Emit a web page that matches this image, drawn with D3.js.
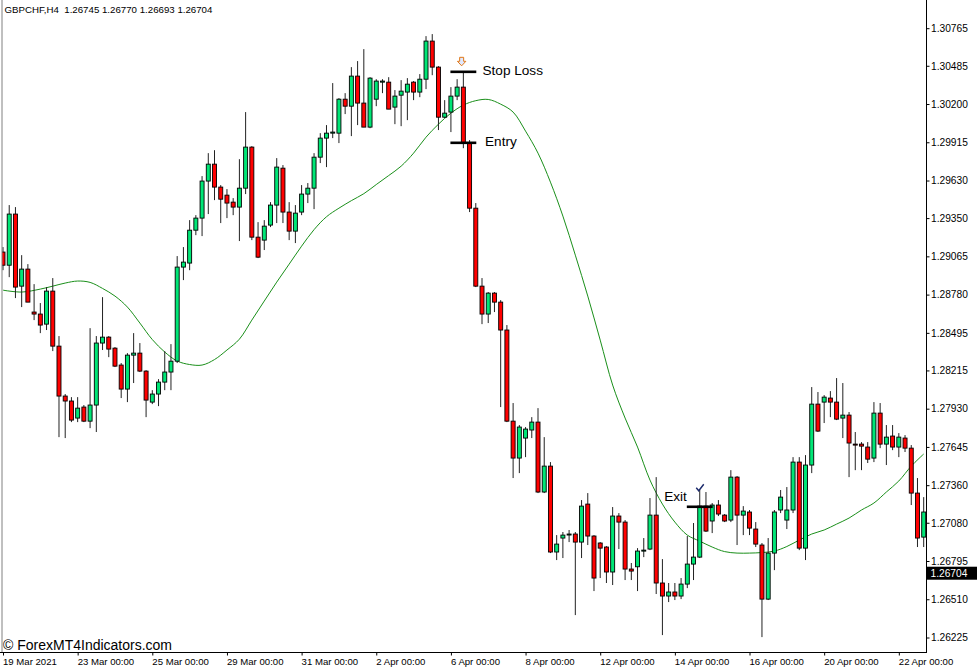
<!DOCTYPE html>
<html><head><meta charset="utf-8">
<script src="https://cdn.jsdelivr.net/npm/d3@7"></script>
<style>
body{margin:0;background:#fff}
svg{display:block}
text{font-family:"Liberation Sans",Arial,sans-serif}
</style></head>
<body><svg id="c" width="977" height="672"></svg>
<script>
// ---- data (GBPCHF H4, 19 Mar 2021 - 22 Apr 2021) ----
const opens = [1.29097,1.28999,1.29380,1.28843,1.28970,1.28650,1.28635,1.28560,1.28806,1.28396,1.28024,1.27987,1.27860,1.27942,1.27837,1.27957,1.28419,1.28463,1.28381,1.28255,1.28076,1.28329,1.28344,1.28210,1.27979,1.28039,1.28128,1.28203,1.28284,1.28985,1.29015,1.29260,1.29350,1.29626,1.29752,1.29581,1.29521,1.29469,1.29432,1.29573,1.29879,1.29208,1.29186,1.29298,1.29447,1.29722,1.29395,1.29253,1.29395,1.29529,1.29573,1.29804,1.29946,1.29983,1.29983,1.30236,1.30184,1.30408,1.30207,1.30028,1.30236,1.30363,1.30363,1.30177,1.30266,1.30289,1.30363,1.30289,1.30385,1.30669,1.30475,1.30102,1.30140,1.30259,1.30326,1.29909,1.29424,1.28843,1.28635,1.28791,1.28724,1.28516,1.27837,1.27562,1.27711,1.27771,1.27830,1.27309,1.27502,1.26862,1.26966,1.26992,1.26996,1.26936,1.27219,1.26981,1.26929,1.26899,1.26713,1.27130,1.27085,1.26735,1.26752,1.26869,1.26884,1.27137,1.26631,1.26534,1.26564,1.26534,1.26623,1.26772,1.26824,1.27204,1.27093,1.27212,1.27137,1.27100,1.27420,1.27137,1.27160,1.27033,1.26914,1.26511,1.26854,1.27175,1.27100,1.27175,1.27532,1.26891,1.27510,1.27964,1.27979,1.28009,1.27979,1.27860,1.27882,1.27666,1.27666,1.27644,1.27562,1.27897,1.27666,1.27726,1.27644,1.27711,1.27636,1.27301,1.26973];
const highs = [1.29134,1.29447,1.29432,1.29074,1.29007,1.28858,1.28717,1.28836,1.28903,1.28471,1.28039,1.28016,1.28016,1.27957,1.28530,1.28471,1.28761,1.28471,1.28389,1.28270,1.28344,1.28493,1.28419,1.28217,1.28068,1.28150,1.28359,1.28411,1.29067,1.29134,1.29335,1.29372,1.29663,1.29834,1.29856,1.29596,1.29566,1.29499,1.29789,1.30140,1.29886,1.29320,1.29335,1.29469,1.29797,1.29745,1.29469,1.29447,1.29596,1.29611,1.29834,1.29983,1.30043,1.30356,1.30244,1.30281,1.30475,1.30520,1.30609,1.30400,1.30385,1.30385,1.30400,1.30304,1.30378,1.30393,1.30371,1.30423,1.30706,1.30721,1.30482,1.30229,1.30326,1.30385,1.30438,1.29931,1.29462,1.28903,1.28799,1.28799,1.28739,1.28553,1.27972,1.27808,1.27793,1.27867,1.27934,1.27718,1.27532,1.26988,1.27011,1.27026,1.27011,1.27249,1.27301,1.26988,1.26936,1.26906,1.27197,1.27152,1.27100,1.26780,1.26891,1.26966,1.27264,1.27420,1.26809,1.26631,1.26631,1.26668,1.26981,1.27078,1.27324,1.27309,1.27227,1.27249,1.27145,1.27472,1.27428,1.27204,1.27175,1.27085,1.26929,1.26966,1.27175,1.27324,1.27346,1.27569,1.27569,1.27584,1.28091,1.28054,1.28031,1.28061,1.28158,1.28121,1.27905,1.27756,1.27681,1.27681,1.27979,1.27972,1.27808,1.27808,1.27748,1.27733,1.27659,1.27413,1.27271];
const lows = [1.28962,1.28910,1.28754,1.28687,1.28724,1.28590,1.28493,1.28516,1.28359,1.27718,1.27711,1.27830,1.27830,1.27830,1.27785,1.27756,1.28367,1.28314,1.28240,1.28009,1.27979,1.28121,1.28203,1.27867,1.27964,1.27949,1.28068,1.28068,1.28270,1.28888,1.28962,1.29223,1.29216,1.29380,1.29484,1.29313,1.29350,1.29372,1.29179,1.29529,1.29186,1.29052,1.29112,1.29283,1.29313,1.29313,1.29186,1.29164,1.29372,1.29462,1.29417,1.29760,1.29730,1.29946,1.29909,1.30125,1.29961,1.30043,1.30028,1.30020,1.30184,1.30281,1.30162,1.30050,1.30035,1.30080,1.30229,1.30251,1.30311,1.30415,1.30006,1.30095,1.29991,1.30229,1.29871,1.29395,1.28836,1.28560,1.28568,1.28650,1.27942,1.27830,1.27413,1.27450,1.27569,1.27711,1.27301,1.27301,1.26854,1.26802,1.26817,1.26936,1.26392,1.26817,1.26914,1.26571,1.26668,1.26631,1.26616,1.26884,1.26653,1.26653,1.26571,1.26824,1.26876,1.26549,1.26243,1.26489,1.26504,1.26511,1.26593,1.26653,1.26817,1.27011,1.27003,1.27130,1.27085,1.27085,1.26914,1.26988,1.26988,1.26899,1.26228,1.26504,1.26727,1.27152,1.27033,1.27152,1.26876,1.26802,1.27450,1.27756,1.27823,1.27867,1.27845,1.27711,1.27420,1.27472,1.27472,1.27525,1.27532,1.27636,1.27510,1.27621,1.27569,1.27607,1.27212,1.26899,1.26899];
const closes = [1.28999,1.29380,1.28836,1.28970,1.28724,1.28635,1.28553,1.28806,1.28396,1.28024,1.27987,1.27845,1.27934,1.27837,1.27957,1.28419,1.28463,1.28374,1.28247,1.28076,1.28329,1.28344,1.28210,1.27994,1.28039,1.28128,1.28203,1.28284,1.28985,1.29022,1.29260,1.29350,1.29626,1.29752,1.29581,1.29491,1.29462,1.29432,1.29573,1.29879,1.29208,1.29059,1.29290,1.29447,1.29730,1.29395,1.29253,1.29387,1.29529,1.29573,1.29804,1.29946,1.29983,1.29991,1.30236,1.30184,1.30408,1.30207,1.30028,1.30393,1.30371,1.30371,1.30162,1.30259,1.30296,1.30348,1.30289,1.30385,1.30669,1.30475,1.30102,1.30132,1.30259,1.30326,1.29909,1.29424,1.28843,1.28635,1.28791,1.28724,1.28516,1.27837,1.27562,1.27793,1.27778,1.27830,1.27309,1.27502,1.26862,1.26921,1.26988,1.26996,1.26936,1.27204,1.26981,1.26668,1.26891,1.26713,1.27130,1.27085,1.26735,1.26720,1.26869,1.26876,1.27137,1.26631,1.26534,1.26564,1.26534,1.26623,1.26772,1.26824,1.27204,1.27018,1.27212,1.27145,1.27093,1.27420,1.27137,1.27167,1.27040,1.26921,1.26511,1.26854,1.27160,1.27271,1.27175,1.27532,1.26891,1.27510,1.27964,1.27763,1.28016,1.27979,1.27852,1.27882,1.27674,1.27664,1.27651,1.27554,1.27897,1.27666,1.27718,1.27644,1.27718,1.27636,1.27301,1.26966,1.27160];

// moving average (read at selected bars)
const maBars = [0,3,6,8,10,12,14,16,18,20,22,24,26,28,30,32,34,36,38,40,42,44,46,48,50,52,54,56,58,60,62,64,66,68,70,72,74,76,78,80,82,84,86,88,90,92,94,96,98,100,102,104,106,108,110,112,114,116,118,120,122,124,126,128,130,132,134,136,138,140,142,144,146,148];
const maValues = [1.28813,1.28799,1.28821,1.28843,1.28866,1.28881,1.28871,1.28826,1.28769,1.28687,1.28568,1.28445,1.28352,1.28285,1.28259,1.28255,1.28296,1.28367,1.28448,1.28590,1.28732,1.28873,1.29007,1.29141,1.29264,1.29360,1.29424,1.29480,1.29532,1.29600,1.29667,1.29737,1.29834,1.29953,1.30050,1.30132,1.30192,1.30225,1.30234,1.30199,1.30140,1.29998,1.29834,1.29618,1.29365,1.29074,1.28769,1.28441,1.28106,1.27860,1.27644,1.27398,1.27219,1.27085,1.26988,1.26943,1.26899,1.26865,1.26854,1.26854,1.26858,1.26869,1.26903,1.26951,1.26996,1.27026,1.27070,1.27115,1.27175,1.27227,1.27309,1.27391,1.27502,1.27592];

const xTickBars = [0,12,24,36,48,60,72,84,96,108,120,132,144];
const xTickLabels = ["19 Mar 2021","23 Mar 00:00","25 Mar 00:00","29 Mar 00:00","31 Mar 00:00","2 Apr 00:00","6 Apr 00:00","8 Apr 00:00","12 Apr 00:00","14 Apr 00:00","16 Apr 00:00","20 Apr 00:00","22 Apr 00:00"];
const yTickValues = [1.30765,1.30485,1.30200,1.29915,1.29630,1.29350,1.29065,1.28780,1.28495,1.28215,1.27930,1.27645,1.27360,1.27080,1.26795,1.26510,1.26225];

const headerText = "GBPCHF,H4  1.26745 1.26770 1.26693 1.26704";
const currentPrice = 1.26704;
// trade annotations
const annLabels = ["Stop Loss","Entry","Exit"];
const annPrices = [1.30440,1.29911,1.27199];
const annFromBar = [72,72,110];
const annToBar = [76,76,114];
const signalBar = 74;
const exitBar = 112;

// ---- layout ----
const svg = d3.select("#c");
const W = 977, H = 672;
const plotL = 2, plotR = 926, plotT = 0, plotB = 652;
const x = d3.scaleLinear().domain([0,148]).range([3, 923.7]);
const y = d3.scaleLinear().domain([1.26225,1.30765]).range([637.5,28.2]);
const bull = "#00e676", bear = "#ff0000";

svg.append("rect").attr("width",W).attr("height",H).attr("fill","#fff");
svg.append("defs").append("clipPath").attr("id","clip")
  .append("rect").attr("x",plotL).attr("y",plotT).attr("width",plotR-plotL).attr("height",plotB-plotT);

const plot = svg.append("g").attr("clip-path","url(#clip)");

// MA line
const maData = maBars.map((b,i)=>[b,maValues[i]]);
plot.append("path").datum(maData)
  .attr("fill","none").attr("stroke","#1a8f1a").attr("stroke-width",1)
  .attr("d", d3.line().x(d=>x(d[0])).y(d=>y(d[1])).curve(d3.curveCatmullRom.alpha(0.5)));

// candles
const bars = d3.range(opens.length).map(i=>({i,o:opens[i],h:highs[i],l:lows[i],c:closes[i]}));
const cg = plot.append("g");
cg.selectAll("line.wick").data(bars).join("line").attr("class","wick")
  .attr("x1",d=>x(d.i)).attr("x2",d=>x(d.i))
  .attr("y1",d=>y(d.h)).attr("y2",d=>y(d.l))
  .attr("stroke","#222").attr("stroke-width",1);
const bw = 4;
cg.selectAll("rect.body").data(bars).join("rect").attr("class","body")
  .attr("x",d=>x(d.i)-bw/2)
  .attr("y",d=>Math.min(y(d.o),y(d.c)))
  .attr("width",bw)
  .attr("height",d=>Math.max(1,Math.abs(y(d.o)-y(d.c))))
  .attr("fill",d=>d.c>=d.o?bull:bear)
  .attr("stroke","#000").attr("stroke-width",0.9);

// annotations
const ag = svg.append("g");
annLabels.forEach((lab,k)=>{
  ag.append("line")
    .attr("x1",x(annFromBar[k])-0.5).attr("x2",x(annToBar[k])+0.5)
    .attr("y1",y(annPrices[k])).attr("y2",y(annPrices[k]))
    .attr("stroke","#000").attr("stroke-width",2.6);
});
ag.append("text").attr("x",x(77)+0.5).attr("y",y(annPrices[0])+3.5)
  .attr("font-size","13.6px").attr("fill","#000").text(annLabels[0]);
ag.append("text").attr("x",x(77)+3).attr("y",y(annPrices[1])+3.5)
  .attr("font-size","13.6px").attr("fill","#000").text(annLabels[1]);
ag.append("text").attr("x",x(exitBar)-35.5).attr("y",y(annPrices[2])-6)
  .attr("font-size","13.6px").attr("fill","#000").text(annLabels[2]);
// signal arrow (hollow down arrow)
{
  const ax = x(signalBar)-1.7, ay = y(annPrices[0])-14.5;
  const p = `M${ax-2},${ay} L${ax+2},${ay} L${ax+2},${ay+4} L${ax+4.2},${ay+4} L${ax},${ay+8.5} L${ax-4.2},${ay+4} L${ax-2},${ay+4} Z`;
  ag.append("path").attr("d",p).attr("fill","#dfe8ff").attr("stroke","#e07818").attr("stroke-width",1);
}
// check mark
{
  const cx = x(exitBar), cy = y(annPrices[2])-19;
  ag.append("path").attr("d",`M${cx-3.5},${cy} L${cx-1},${cy+3} L${cx+4},${cy-3.5}`)
    .attr("fill","none").attr("stroke","#1b2a6b").attr("stroke-width",1.4);
}

// frame
svg.append("line").attr("x1",plotL).attr("x2",plotL).attr("y1",0).attr("y2",plotB).attr("stroke","#808080").attr("stroke-width",1);
svg.append("line").attr("x1",0).attr("x2",plotR).attr("y1",plotB+0.5).attr("y2",plotB+0.5).attr("stroke","#000").attr("stroke-width",1);
svg.append("line").attr("x1",plotR+0.5).attr("x2",plotR+0.5).attr("y1",0).attr("y2",plotB+1).attr("stroke","#000").attr("stroke-width",1);

// right axis
const ya = svg.append("g").attr("transform",`translate(${plotR+0.5},0)`)
  .call(d3.axisRight(y).tickValues(yTickValues).tickFormat(d3.format(".5f")).tickSize(3).tickPadding(1.5));
ya.select(".domain").remove();
ya.selectAll("text").attr("font-family","Liberation Sans, Arial, sans-serif").attr("font-size","10.2px").attr("fill","#000");
ya.selectAll("line").attr("stroke","#000");

// bottom axis
const xa = svg.append("g").attr("transform",`translate(0,${plotB+0.5})`)
  .call(d3.axisBottom(x).tickValues(xTickBars).tickFormat((d,i)=>xTickLabels[i]).tickSize(3));
xa.select(".domain").remove();
xa.selectAll("text").attr("font-family","Liberation Sans, Arial, sans-serif").attr("font-size","9.6px")
  .attr("fill","#000").attr("text-anchor","start").attr("dx","-0.5").attr("y",6).attr("dy","0.71em");
xa.selectAll("line").attr("stroke","#000");

// current price label
{
  const py = y(currentPrice);
  svg.append("rect").attr("x",plotR+1).attr("y",py-6.5).attr("width",W-plotR-1).attr("height",13).attr("fill","#000");
  svg.append("text").attr("x",plotR+4.5).attr("y",py+3.6).attr("font-size","10.2px").attr("fill","#fff").text(d3.format(".5f")(currentPrice));
}

// header & watermark
svg.append("text").attr("x",4.5).attr("y",13).attr("font-size","9.7px").attr("fill","#000")
  .style("white-space","pre").attr("xml:space","preserve").text(headerText);
svg.append("text").attr("x",3).attr("y",649.5).attr("font-size","14px").attr("fill","#000").text("© ForexMT4Indicators.com");
</script>
</body></html>
